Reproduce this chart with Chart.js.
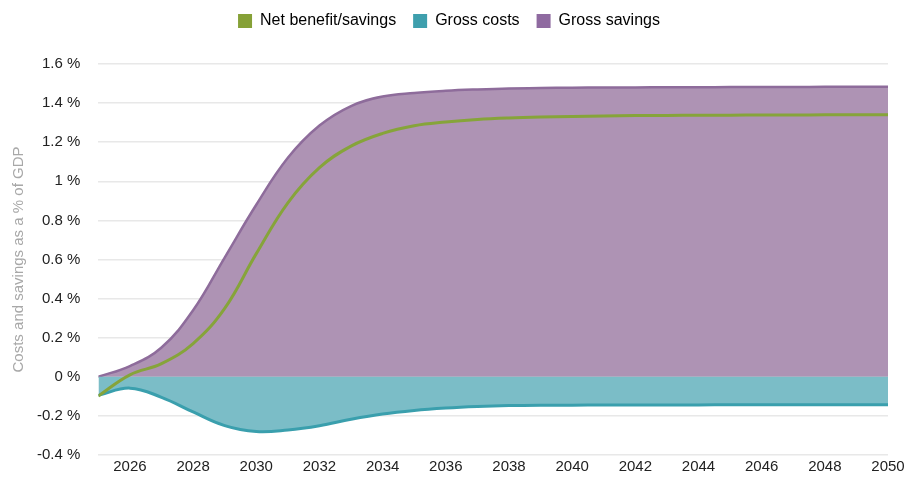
<!DOCTYPE html>
<html>
<head>
<meta charset="utf-8">
<script src="https://cdn.jsdelivr.net/npm/chart.js@4/dist/chart.umd.min.js"></script>
<style>
  html, body { margin: 0; padding: 0; background: #fff; }
  #wrap { width: 909px; height: 482px; }
</style>
</head>
<body>
<div id="wrap"><canvas id="gdpChart"></canvas></div>
<script>
const years = [2025, 2026, 2027, 2028, 2029, 2030, 2031, 2032, 2033, 2034, 2035, 2036, 2037,
               2038, 2039, 2040, 2041, 2042, 2043, 2044, 2045, 2046, 2047, 2048, 2049, 2050];

// % of GDP
const netBenefit = [-0.098, 0.01, 0.067, 0.17, 0.35, 0.63, 0.89, 1.07, 1.18, 1.245, 1.284, 1.303, 1.316,
                    1.324, 1.329, 1.332, 1.334, 1.336, 1.337, 1.338, 1.338, 1.339, 1.339, 1.34, 1.34, 1.34];
const grossCosts = [-0.095, -0.058, -0.105, -0.18, -0.25, -0.28, -0.272, -0.25, -0.217, -0.19, -0.172, -0.16, -0.152,
                    -0.147, -0.145, -0.145, -0.144, -0.144, -0.144, -0.144, -0.143, -0.143, -0.143, -0.143, -0.143, -0.143];
const grossSavings = [0, 0.055, 0.15, 0.34, 0.61, 0.88, 1.12, 1.285, 1.385, 1.434, 1.452, 1.463, 1.47,
                      1.475, 1.477, 1.479, 1.48, 1.48, 1.481, 1.481, 1.482, 1.482, 1.482, 1.483, 1.483, 1.483];

const yTicks = [-0.4, -0.2, 0, 0.2, 0.4, 0.6, 0.8, 1, 1.2, 1.4, 1.6];

const toPoints = arr => arr.map((v, i) => ({ x: years[i], y: v }));

const FONT = "'Liberation Sans', Arial, sans-serif";

// extra room between the legend and the plot
const legendGap = {
    id: "legendGap",
    beforeInit(chart) {
        const fit = chart.legend.fit;
        chart.legend.fit = function () {
            fit.bind(chart.legend)();
            this.height += 25;
        };
    }
};

new Chart(document.getElementById("gdpChart"), {
    type: "line",
    plugins: [legendGap],
    data: {
        datasets: [
            {
                label: "Net benefit/savings",
                data: toPoints(netBenefit),
                borderColor: "#86a43a",
                legendColor: "#86a137",
                borderWidth: 3,
                fill: false
            },
            {
                label: "Gross costs",
                data: toPoints(grossCosts),
                borderColor: "#3a9fad",
                backgroundColor: "#7bbdc7",
                legendColor: "#3e9fad",
                borderWidth: 3,
                fill: "origin"
            },
            {
                label: "Gross savings",
                data: toPoints(grossSavings),
                borderColor: "#8e6c9b",
                backgroundColor: "#ae93b4",
                legendColor: "#8f6aa0",
                borderWidth: 2.5,
                fill: "origin"
            }
        ]
    },
    options: {
        responsive: true,
        maintainAspectRatio: false,
        animation: false,
        layout: { padding: { top: -4, right: 21, left: 10, bottom: 0 } },
        elements: {
            point: { radius: 0 },
            line: { tension: 0.4 }
        },
        plugins: {
            tooltip: { enabled: false },
            legend: {
                position: "top",
                labels: {
                    font: { family: FONT, size: 16 },
                    color: "#222",
                    boxWidth: 14,
                    boxHeight: 14,
                    padding: 17,
                    generateLabels(chart) {
                        return chart.data.datasets.map((ds, i) => ({
                            text: ds.label,
                            fillStyle: ds.legendColor,
                            strokeStyle: ds.legendColor,
                            lineWidth: 0,
                            datasetIndex: i,
                            hidden: false
                        }));
                    }
                }
            }
        },
        scales: {
            x: {
                type: "linear",
                min: 2025,
                max: 2050,
                grid: { display: false },
                border: { display: false },
                ticks: {
                    stepSize: 2,
                    includeBounds: false,
                    padding: -5,
                    maxRotation: 0,
                    color: "#222",
                    font: { family: FONT, size: 15 },
                    callback: v => String(v)
                }
            },
            y: {
                min: -0.4,
                max: 1.6,
                afterBuildTicks(scale) {
                    scale.ticks = yTicks.map(v => ({ value: v }));
                },
                grid: { color: "#e8e8e8", lineWidth: 1.5, drawTicks: false },
                border: { display: false },
                ticks: {
                    padding: 18,
                    color: "#222",
                    font: { family: FONT, size: 15 },
                    callback: v => Number(v.toFixed(1)) + " %"
                },
                title: {
                    display: true,
                    text: "Costs and savings as a % of GDP",
                    color: "#a8a8a8",
                    font: { family: FONT, size: 15 },
                    padding: { top: 0, bottom: -9 }
                }
            }
        }
    }
});
</script>
</body>
</html>
